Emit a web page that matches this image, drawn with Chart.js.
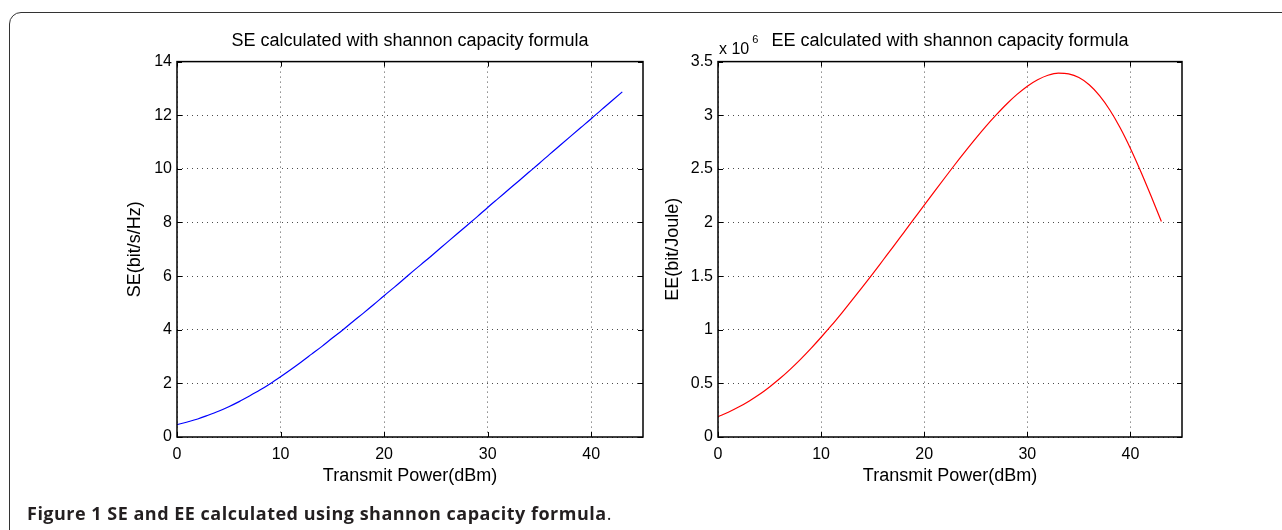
<!DOCTYPE html>
<html>
<head>
<meta charset="utf-8">
<script src="https://cdn.jsdelivr.net/npm/chart.js@4"></script>
<style>
  html, body { margin: 0; padding: 0; background: #fff; }
  body { width: 1282px; height: 530px; position: relative; overflow: hidden; font-family: 'Liberation Sans', Arial, sans-serif; }
  .frame { position: absolute; left: 9px; top: 12px; width: 1400px; height: 700px; border: 1.5px solid #333; border-top-left-radius: 12px; box-sizing: border-box; }
  canvas { position: absolute; top: 0; }
  #seChart { left: 0; }
  #eeChart { left: 600px; }
  .caption { position: absolute; left: 27px; top: 501px; font-family: 'Open Sans', 'Noto Sans', sans-serif; font-weight: 700; font-size: 18px; letter-spacing: 0.5px; color: #231f20; white-space: nowrap; }
  .caption .dot { font-weight: 400; }
</style>
</head>
<body>
<div class="frame"></div>
<canvas id="seChart" width="660" height="530" style="width:660px;height:530px"></canvas>
<canvas id="eeChart" width="682" height="530" style="width:682px;height:530px"></canvas>
<div class="caption">Figure 1 SE and EE calculated using shannon capacity formula<span class="dot">.</span></div>

<script>
// Transmit power sweep (dBm)
const powerDbm = [0, 1, 2, 3, 4, 5, 6, 7, 8, 9, 10, 11, 12, 13, 14, 15, 16, 17, 18, 19, 20,
  21, 22, 23, 24, 25, 26, 27, 28, 29, 30, 31, 32, 33, 34, 35, 36, 37, 38, 39, 40, 41, 42, 43];

// Spectral efficiency, bit/s/Hz
const seValues = [0.46, 0.56, 0.67, 0.81, 0.96, 1.13, 1.32, 1.53, 1.75, 1.99, 2.25,
  2.52, 2.80, 3.09, 3.38, 3.69, 3.99, 4.31, 4.62, 4.94, 5.27,
  5.59, 5.92, 6.25, 6.57, 6.90, 7.23, 7.56, 7.89, 8.22, 8.56,
  8.89, 9.22, 9.55, 9.88, 10.21, 10.55, 10.88, 11.21, 11.54, 11.87,
  12.21, 12.54, 12.87];

// Energy efficiency, x 10^6 bit/Joule
const eeValues = [0.190, 0.231, 0.279, 0.334, 0.396, 0.467, 0.545, 0.631, 0.724, 0.824, 0.930,
  1.040, 1.156, 1.275, 1.397, 1.521, 1.648, 1.775, 1.904, 2.033, 2.162,
  2.290, 2.417, 2.543, 2.665, 2.784, 2.898, 3.005, 3.105, 3.194, 3.271,
  3.331, 3.373, 3.393, 3.386, 3.351, 3.284, 3.183, 3.049, 2.883, 2.690,
  2.475, 2.246, 2.010];

// Tick positions
const powerTicks = [0, 10, 20, 30, 40];
const seTicks = [0, 2, 4, 6, 8, 10, 12, 14];
const eeTicks = [0, 0.5, 1, 1.5, 2, 2.5, 3, 3.5];

const FONT = "'Liberation Sans', Arial, Helvetica, sans-serif";

// Boxed axes with inward tick marks and an optional exponent note
const boxedAxes = {
  id: 'boxedAxes',
  afterDraw(chart, args, opts) {
    const { ctx, chartArea: a, scales } = chart;
    ctx.save();
    ctx.strokeStyle = '#000';
    ctx.lineWidth = 1;
    const len = 5;
    ctx.beginPath();
    scales.x.ticks.forEach(t => {
      const px = Math.round(scales.x.getPixelForValue(t.value)) + 0.5;
      ctx.moveTo(px, a.bottom); ctx.lineTo(px, a.bottom - len);
      ctx.moveTo(px, a.top); ctx.lineTo(px, a.top + len);
    });
    scales.y.ticks.forEach(t => {
      const py = Math.round(scales.y.getPixelForValue(t.value)) + 0.5;
      ctx.moveTo(a.left, py); ctx.lineTo(a.left + len, py);
      ctx.moveTo(a.right, py); ctx.lineTo(a.right - len, py);
    });
    ctx.stroke();
    ctx.lineWidth = 1.5;
    ctx.strokeRect(a.left, a.top, a.right - a.left, a.bottom - a.top);
    if (opts.exponent) {
      ctx.fillStyle = '#000';
      ctx.textBaseline = 'alphabetic';
      ctx.textAlign = 'left';
      ctx.font = '16px ' + FONT;
      const base = 'x 10';
      ctx.fillText(base, a.left + 1, a.top - 8);
      const w = ctx.measureText(base).width;
      ctx.font = '11px ' + FONT;
      ctx.fillText(opts.exponent, a.left + 1 + w + 3, a.top - 19);
    }
    ctx.restore();
  }
};

function makeChart(id, o) {
  const points = o.values.map((v, i) => ({ x: powerDbm[i], y: v }));
  const gridStyle = { color: 'rgba(0,0,0,0.7)', lineWidth: 1, drawTicks: false };
  const borderStyle = { display: false, dash: [1, 4] };
  return new Chart(document.getElementById(id), {
    type: 'line',
    data: {
      datasets: [{
        data: points,
        borderColor: o.color,
        borderWidth: 1.2,
        pointRadius: 0,
        fill: false,
        cubicInterpolationMode: 'monotone'
      }]
    },
    options: {
      responsive: false,
      animation: false,
      devicePixelRatio: 1,
      layout: { padding: { left: o.padLeft, right: o.padRight, top: 0, bottom: 43 } },
      plugins: {
        legend: { display: false },
        tooltip: { enabled: false },
        title: {
          display: true, text: o.title, color: '#000', fullSize: false,
          font: { family: FONT, size: 18, weight: 'normal' },
          padding: { top: 30, bottom: 10 }
        },
        boxedAxes: { exponent: o.exponent }
      },
      scales: {
        x: {
          type: 'linear', min: 0, max: 45,
          afterBuildTicks: s => { s.ticks = powerTicks.map(v => ({ value: v })); },
          afterFit: s => { s.height = 50; },
          grid: gridStyle,
          border: borderStyle,
          ticks: { color: '#000', font: { family: FONT, size: 16 }, padding: 8, maxRotation: 0 },
          title: { display: true, text: 'Transmit Power(dBm)', color: '#000', font: { family: FONT, size: 18 }, padding: 0 }
        },
        y: {
          type: 'linear', min: 0, max: o.yMax,
          afterBuildTicks: s => { s.ticks = o.yTicks.map(v => ({ value: v })); },
          afterFit: s => { s.width = o.axisWidth; },
          grid: gridStyle,
          border: borderStyle,
          ticks: { color: '#000', font: { family: FONT, size: 16 }, padding: 5, callback: v => String(v) },
          title: { display: true, text: o.yTitle, color: '#000', font: { family: FONT, size: 18 }, padding: 0 }
        }
      }
    },
    plugins: [boxedAxes]
  });
}

makeChart('seChart', {
  values: seValues, color: '#0000ff', yMax: 14, yTicks: seTicks,
  title: 'SE calculated with shannon capacity formula', yTitle: 'SE(bit/s/Hz)',
  padLeft: 124.2, padRight: 17, axisWidth: 52.8
});

makeChart('eeChart', {
  values: eeValues, color: '#ff0000', yMax: 3.5, yTicks: eeTicks,
  title: 'EE calculated with shannon capacity formula', yTitle: 'EE(bit/Joule)',
  padLeft: 62.2, padRight: 100, axisWidth: 55.8, exponent: '6'
});
</script>
</body>
</html>
